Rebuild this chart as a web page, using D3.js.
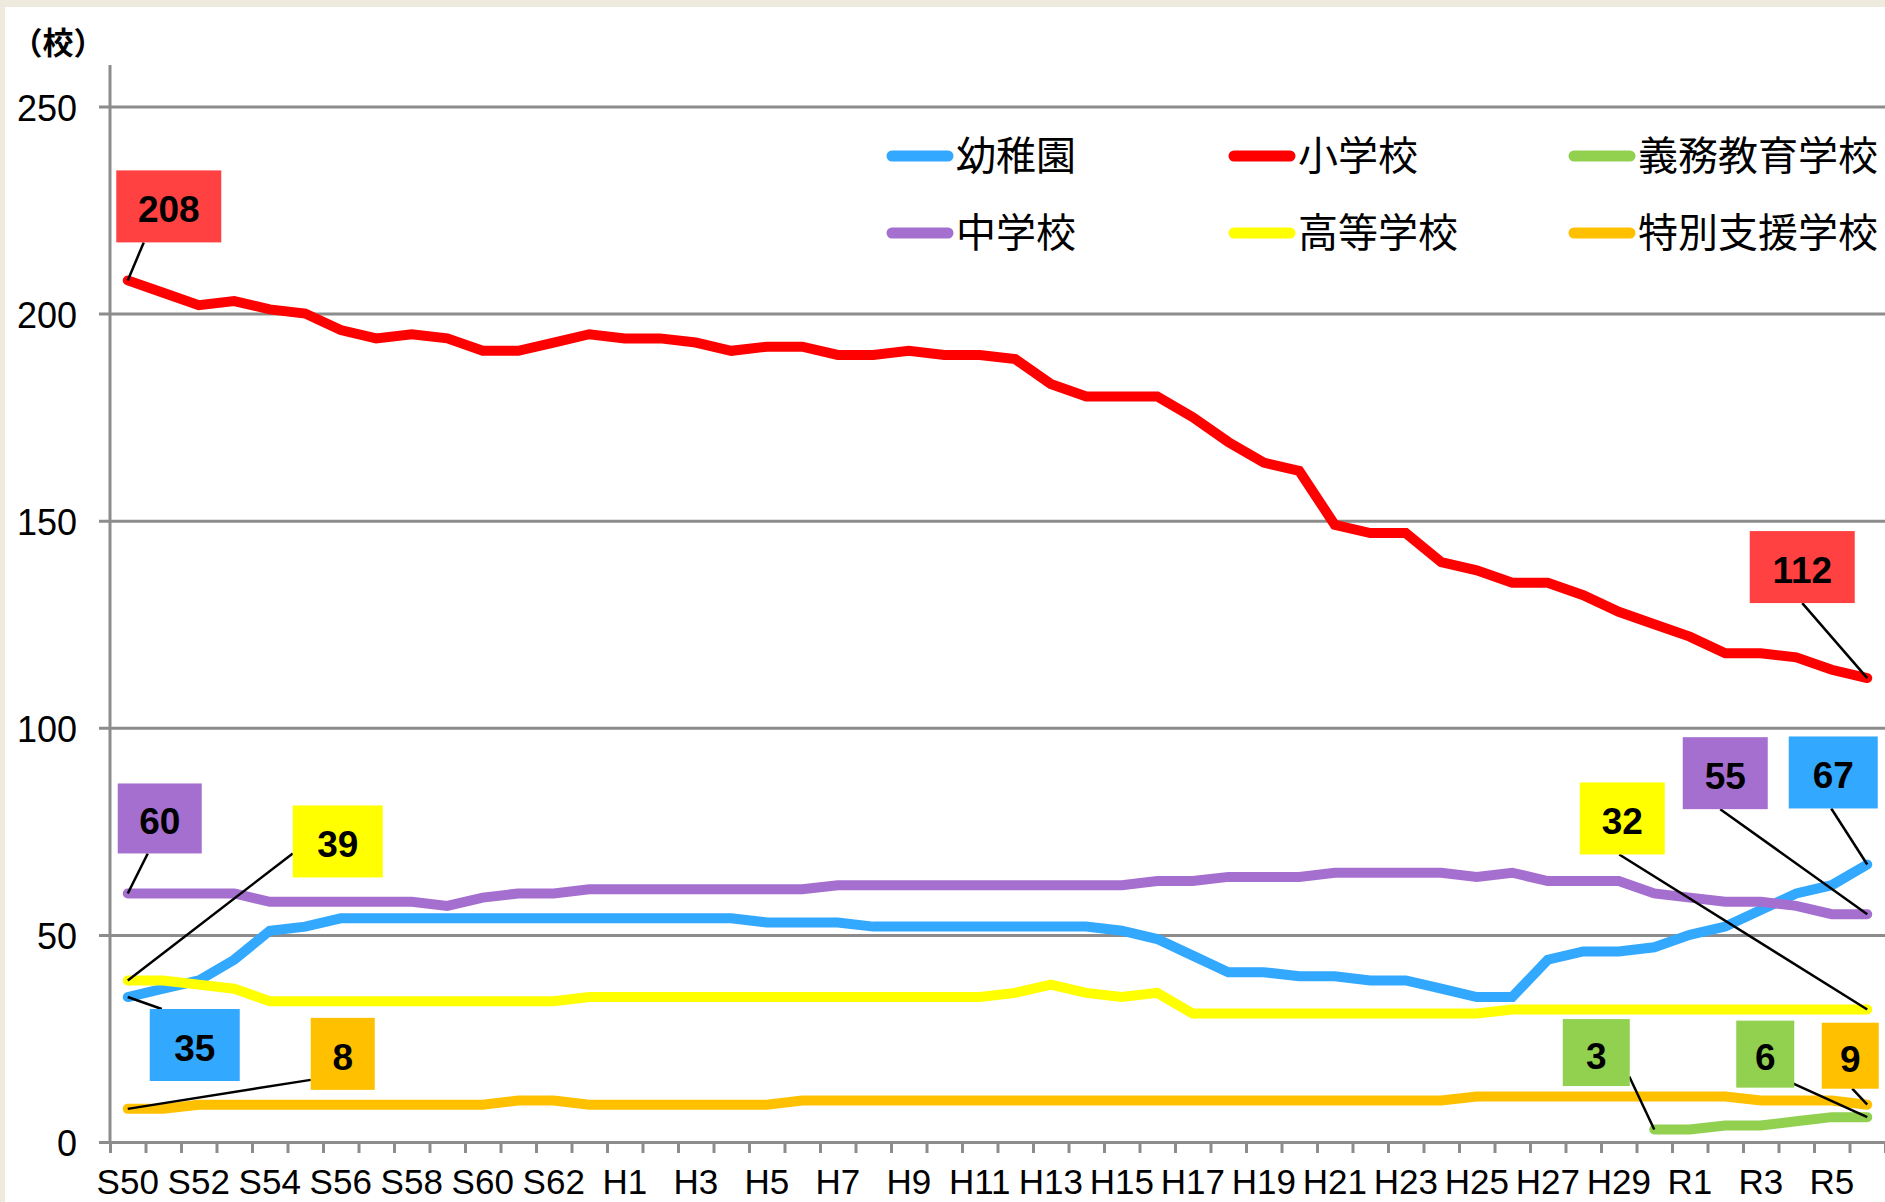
<!DOCTYPE html>
<html>
<head>
<meta charset="utf-8">
<script src="https://cdn.jsdelivr.net/npm/d3@7"></script>
<style>
  html, body { margin: 0; padding: 0; background: #eeeadd; }
  svg { display: block; }
</style>
</head>
<body>
<div id="chart"></div>
<script>
var svgWidth = 1885;
var svgHeight = 1202;

// years on the x axis (S50 .. R6)
var years = ['S50','S51','S52','S53','S54','S55','S56','S57','S58','S59','S60','S61','S62','S63',
  'H1','H2','H3','H4','H5','H6','H7','H8','H9','H10','H11','H12','H13','H14','H15','H16',
  'H17','H18','H19','H20','H21','H22','H23','H24','H25','H26','H27','H28','H29','H30',
  'R1','R2','R3','R4','R5','R6'];

// only every other year gets a label
var yearLabels = ['S50','S52','S54','S56','S58','S60','S62','H1','H3','H5','H7','H9','H11','H13',
  'H15','H17','H19','H21','H23','H25','H27','H29','R1','R3','R5'];

var yTicks = [0, 50, 100, 150, 200, 250];

// number of schools per year
var yochien = [35,37,39,44,51,52,54,54,54,54,54,54,54,54,54,54,54,54,53,53,53,52,52,52,52,52,52,52,
  51,49,45,41,41,40,40,39,39,37,35,35,44,46,46,47,50,52,56,60,62,67];
var shogakko = [208,205,202,203,201,200,196,194,195,194,191,191,193,195,194,194,193,191,192,192,190,190,
  191,190,190,189,183,180,180,180,175,169,164,162,149,147,147,140,138,135,135,132,128,125,122,118,118,117,114,112];
var gimu = [null,null,null,null,null,null,null,null,null,null,null,null,null,null,null,null,null,null,null,null,
  null,null,null,null,null,null,null,null,null,null,null,null,null,null,null,null,null,null,null,null,
  null,null,null,3,3,4,4,5,6,6];
var chugakko = [60,60,60,60,58,58,58,58,58,57,59,60,60,61,61,61,61,61,61,61,62,62,62,62,62,62,62,62,
  62,63,63,64,64,64,65,65,65,65,64,65,63,63,63,60,59,58,58,57,55,55];
var koko = [39,39,38,37,34,34,34,34,34,34,34,34,34,35,35,35,35,35,35,35,35,35,35,35,35,36,38,36,
  35,36,31,31,31,31,31,31,31,31,31,32,32,32,32,32,32,32,32,32,32,32];
var tokubetsu = [8,8,9,9,9,9,9,9,9,9,9,10,10,9,9,9,9,9,9,10,10,10,10,10,10,10,10,10,10,10,10,10,10,10,
  10,10,10,10,11,11,11,11,11,11,11,11,10,10,10,9];

var series = [
  {name: '幼稚園', values: yochien, color: '#33a8ff', box: '#33a8ff'},
  {name: '小学校', values: shogakko, color: '#ff0000', box: '#ff4141'},
  {name: '義務教育学校', values: gimu, color: '#92d050', box: '#92d050'},
  {name: '中学校', values: chugakko, color: '#a56fd0', box: '#a56fd0'},
  {name: '高等学校', values: koko, color: '#ffff00', box: '#ffff00'},
  {name: '特別支援学校', values: tokubetsu, color: '#ffc000', box: '#ffc000'}
];

// data labels: box centre offset from the point, box size, leader anchor on the box
var callouts = [
  {s: '小学校', year: 'S50', dx: 41, dy: -74, w: 105, h: 72, ax: -25, ay: 36},
  {s: '小学校', year: 'R6', dx: -65, dy: -111, w: 105, h: 72, ax: 0, ay: 36},
  {s: '中学校', year: 'S50', dx: 32, dy: -75, w: 84, h: 70, ax: -12, ay: 35},
  {s: '高等学校', year: 'S50', dx: 210, dy: -139, w: 90, h: 72, ax: -45, ay: 12},
  {s: '幼稚園', year: 'S50', dx: 67, dy: 48, w: 90, h: 72, ax: -33, ay: -36},
  {s: '特別支援学校', year: 'S50', dx: 215, dy: -55, w: 64, h: 72, ax: -32, ay: 26},
  {s: '高等学校', year: 'R6', dx: -245, dy: -191, w: 85, h: 72, ax: -3, ay: 36},
  {s: '中学校', year: 'R6', dx: -142, dy: -141, w: 85, h: 72, ax: -5, ay: 36},
  {s: '幼稚園', year: 'R6', dx: -34, dy: -92, w: 89, h: 72, ax: -2, ay: 36},
  {s: '義務教育学校', year: 'H30', dx: -58, dy: -77, w: 67, h: 67, ax: 33, ay: 24},
  {s: '義務教育学校', year: 'R6', dx: -102, dy: -63, w: 58, h: 67, ax: 27, ay: 29},
  {s: '特別支援学校', year: 'R6', dx: -17, dy: -49, w: 57, h: 66, ax: 2, ay: 33}
];

var plotLeft = 110, plotRight = 1885, plotTop = 65, plotBottom = 1142;
var numFont = '"Liberation Sans", Arial, sans-serif';
var jpFont = '"Noto Sans CJK JP", "Noto Sans", sans-serif';

var svg = d3.select('#chart').append('svg')
    .attr('width', svgWidth)
    .attr('height', svgHeight);

// white chart area on the paper background
svg.append('rect')
    .attr('x', 5).attr('y', 7)
    .attr('width', svgWidth - 5).attr('height', svgHeight - 7)
    .attr('fill', '#ffffff');

var x = d3.scalePoint().domain(years).range([plotLeft, plotRight]).padding(0.5);
var xEdge = d3.scaleLinear().domain([0, years.length]).range([plotLeft, plotRight]);
var y = d3.scaleLinear().domain([0, 260]).range([plotBottom, plotTop]);

// gridlines + y labels
var yAxis = svg.append('g')
    .attr('transform', 'translate(99,0)')
    .call(d3.axisLeft(y).tickValues(yTicks).tickSize(-(plotRight - 99)).tickPadding(22));
yAxis.select('.domain').remove();
yAxis.selectAll('line').attr('stroke', '#8c8c8c').attr('stroke-width', 3);
yAxis.selectAll('text')
    .attr('x', 77 - 99)
    .attr('dy', '0.38em')
    .attr('fill', '#000')
    .style('font-family', numFont)
    .style('font-size', '36px');

// x axis ticks between the years
var xAxis = svg.append('g')
    .attr('transform', `translate(0, ${plotBottom})`)
    .call(d3.axisBottom(xEdge).tickValues(d3.range(years.length + 1)).tickSize(11).tickSizeOuter(0).tickFormat(''));
xAxis.select('.domain').remove();
xAxis.selectAll('line').attr('stroke', '#8c8c8c').attr('stroke-width', 3);

// vertical axis line
svg.append('line')
    .attr('x1', plotLeft).attr('x2', plotLeft)
    .attr('y1', plotTop).attr('y2', plotBottom)
    .attr('stroke', '#8c8c8c').attr('stroke-width', 3);

svg.selectAll('.xlabel')
    .data(yearLabels)
    .enter()
    .append('text')
    .attr('class', 'xlabel')
    .attr('x', d => x(d))
    .attr('y', 1194)
    .attr('text-anchor', 'middle')
    .style('font-family', numFont)
    .style('font-size', '35px')
    .text(d => d);

// unit
svg.append('text')
    .attr('x', 58).attr('y', 54)
    .attr('text-anchor', 'middle')
    .style('font-family', jpFont)
    .style('font-size', '31px')
    .style('font-weight', 'bold')
    .text('（校）');

// lines
var line = d3.line()
    .defined(d => d.v != null)
    .x(d => x(d.year))
    .y(d => y(d.v));

series.forEach(function(s) {
    var pts = years.map((yr, i) => ({year: yr, v: s.values[i]}));
    svg.append('path')
        .datum(pts)
        .attr('d', line)
        .attr('fill', 'none')
        .attr('stroke', s.color)
        .attr('stroke-width', 10)
        .attr('stroke-linecap', 'round')
        .attr('stroke-linejoin', 'miter');
});

// legend
var legend = svg.append('g');
series.forEach(function(s, i) {
    var col = i % 3, row = Math.floor(i / 3);
    var lx = [886, 1228, 1568][col];
    var ly = [156, 233][row];
    legend.append('line')
        .attr('x1', lx + 6).attr('x2', lx + 62)
        .attr('y1', ly).attr('y2', ly)
        .attr('stroke', s.color)
        .attr('stroke-width', 11)
        .attr('stroke-linecap', 'round');
    legend.append('text')
        .attr('x', lx + 70)
        .attr('y', ly)
        .attr('dy', '0.36em')
        .style('font-family', jpFont)
        .style('font-size', '40px')
        .text(s.name);
});

// data labels with leader lines
callouts.forEach(function(c) {
    var s = series.find(d => d.name === c.s);
    var v = s.values[years.indexOf(c.year)];
    var px = x(c.year), py = y(v);
    var cx = px + c.dx, cy = py + c.dy;
    svg.append('line')
        .attr('x1', px).attr('y1', py)
        .attr('x2', cx + c.ax).attr('y2', cy + c.ay)
        .attr('stroke', '#000')
        .attr('stroke-width', 2.5);
    svg.append('rect')
        .attr('x', cx - c.w / 2).attr('y', cy - c.h / 2)
        .attr('width', c.w).attr('height', c.h)
        .attr('fill', s.box);
    svg.append('text')
        .attr('x', cx).attr('y', cy + 16)
        .attr('text-anchor', 'middle')
        .style('font-family', numFont)
        .style('font-size', '37px')
        .style('font-weight', 'bold')
        .text(v);
});
</script>
</body>
</html>
